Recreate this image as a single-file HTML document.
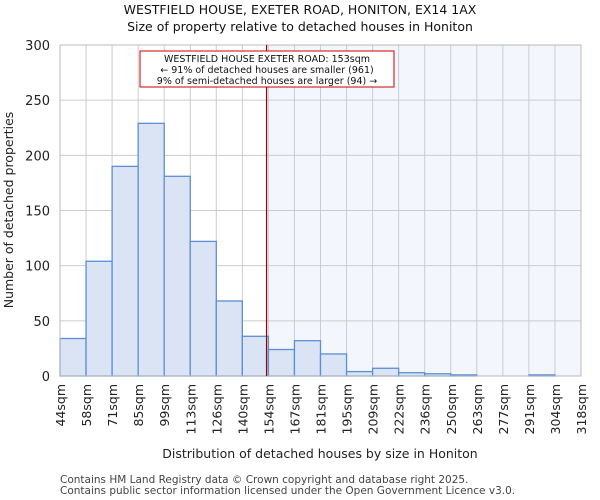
<!DOCTYPE html>
<html><head><meta charset="utf-8"><style>body{margin:0;background:#fff}svg{display:block;font-family:"DejaVu Sans","Liberation Sans",sans-serif}</style></head>
<body>
<svg id="c" width="600" height="500"></svg>
<script>
const categories=["44sqm","58sqm","71sqm","85sqm","99sqm","113sqm","126sqm","140sqm","154sqm","167sqm","181sqm","195sqm","209sqm","222sqm","236sqm","250sqm","263sqm","277sqm","291sqm","304sqm","318sqm"];
const counts=[34,104,190,229,181,122,68,36,24,32,20,4,7,3,2,1,0,0,1,0];
const yTicks=[0,50,100,150,200,250,300];
const markerValue=153;
const binEdges=[44,58,71,85,99,113,126,140,154,167,181,195,209,222,236,250,263,277,291,304,318];
const svg=document.getElementById('c');const NS='http://www.w3.org/2000/svg';
const L=60,R=581,T=45,B=376;
const x=i=>L+(R-L)*i/counts.length;
const y=v=>B-(B-T)*v/300;
function xv(v){for(let i=0;i<binEdges.length-1;i++){if(v<=binEdges[i+1])return x(i)+(x(i+1)-x(i))*(v-binEdges[i])/(binEdges[i+1]-binEdges[i]);}return R;}
function mk(t,a,txt){const e=document.createElementNS(NS,t);for(const k in a)e.setAttribute(k,a[k]);if(txt!==undefined)e.textContent=txt;svg.appendChild(e);return e;}
const mx=xv(markerValue);
let e=mk('rect',{x:mx,y:T,width:R-mx,height:B-T,fill:'#f3f6fd'});


yTicks.forEach(v=>{let g=mk('line',{x1:L,x2:R,y1:y(v),y2:y(v),stroke:'#cccccc'});


let t=mk('text',{x:L-10,y:y(v)+5,'text-anchor':'end','font-size':13,fill:'#222'},v);

});
for(let i=0;i<=counts.length;i++){let g=mk('line',{x1:x(i),x2:x(i),y1:T,y2:B,stroke:'#cccccc'});

}
counts.forEach((v,i)=>{let r=mk('rect',{x:x(i),y:y(v),width:x(i+1)-x(i),height:B-y(v),fill:'#dae4f4',stroke:'#5b8fd6','stroke-width':1.3});

});
categories.forEach((c,i)=>{let t=mk('text',{transform:`translate(${x(i)+5},${B+8}) rotate(-90)`,'text-anchor':'end','font-size':12.5,fill:'#222'},c);

});
e=mk('rect',{x:L,y:T,width:R-L,height:B-T,fill:'none',stroke:'#bbbbbb'});


e=mk('line',{x1:mx,x2:mx,y1:T,y2:B,stroke:'#990000','stroke-width':1.2});


e=mk('rect',{x:140,y:51,width:254,height:36,fill:'#fff',stroke:'#cc0000'});


[["WESTFIELD HOUSE EXETER ROAD: 153sqm",62],["← 91% of detached houses are smaller (961)",73],["9% of semi-detached houses are larger (94) →",84]].forEach(a=>{let t=mk('text',{x:267,y:a[1],'text-anchor':'middle','font-size':9.5,fill:'#111'},a[0]);

});
e=mk('text',{x:300,y:14,'text-anchor':'middle','font-size':12.5,fill:'#111'},'WESTFIELD HOUSE, EXETER ROAD, HONITON, EX14 1AX');


e=mk('text',{x:300,y:31,'text-anchor':'middle','font-size':12.5,fill:'#111'},'Size of property relative to detached houses in Honiton');


e=mk('text',{transform:'translate(13,210) rotate(-90)','text-anchor':'middle','font-size':12.5,fill:'#222'},'Number of detached properties');


e=mk('text',{x:320,y:458,'text-anchor':'middle','font-size':12.5,fill:'#222'},'Distribution of detached houses by size in Honiton');


e=mk('text',{x:60,y:483,'font-size':10.5,fill:'#444'},'Contains HM Land Registry data © Crown copyright and database right 2025.');


e=mk('text',{x:60,y:494,'font-size':10.5,fill:'#444'},'Contains public sector information licensed under the Open Government Licence v3.0.');


</script>
</body></html>
